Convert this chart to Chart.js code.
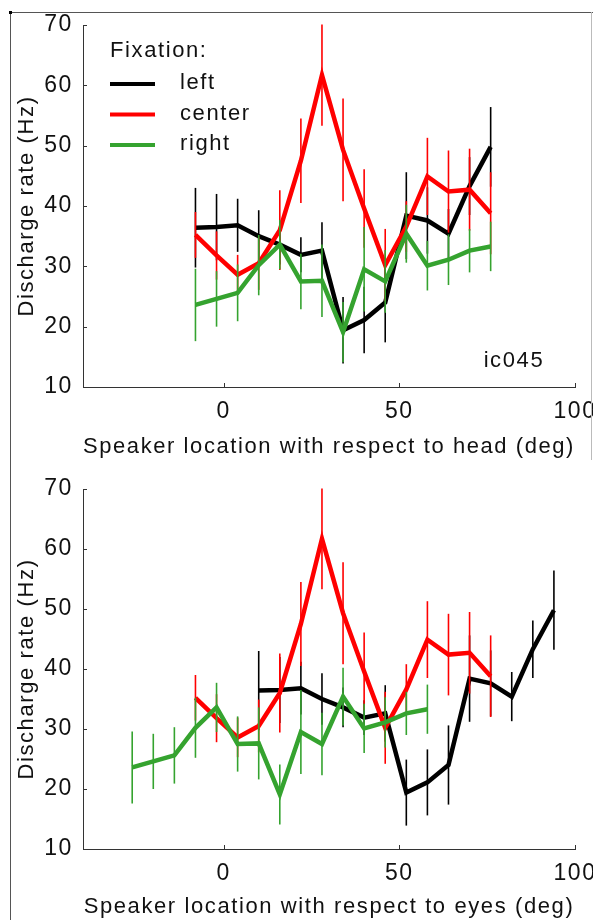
<!DOCTYPE html>
<html>
<head>
<meta charset="utf-8">
<script src="https://cdn.jsdelivr.net/npm/chart.js@4.4.0/dist/chart.umd.min.js"></script>
<style>
  html, body { margin: 0; padding: 0; background: #fff; }
  #wrap { position: relative; width: 593px; height: 920px; overflow: hidden; background: #fff; }
  .panel { position: absolute; left: 0; width: 593px; height: 460px; }
  .fl { position: absolute; left: 10px; top: 12px; width: 1px; height: 908px; background: #555; }
  .ft { position: absolute; left: 10px; top: 12px; width: 583px; height: 1px; background: #555; }
  .fr { position: absolute; left: 591px; top: 12px; width: 1px; height: 448px; background: #bbb; }
  .fc { position: absolute; left: 9px; top: 11px; width: 3px; height: 3px; background: #000; }
</style>
</head>
<body>
<div id="wrap">
  <div class="panel" style="top:0"><canvas id="top" width="593" height="460"></canvas></div>
  <div class="panel" style="top:460px"><canvas id="bottom" width="593" height="460"></canvas></div>
  <div class="fl"></div><div class="ft"></div><div class="fr"></div><div class="fc"></div>
</div>
<script>
// ---------------- data ----------------
const fixationLabels = ['left', 'center', 'right'];
const legendTitle = 'Fixation:';
const noteLabel = 'ic045';

// speaker location with respect to head (deg)
const speakerHead = [-8, -2, 4, 10, 16, 22, 28, 34, 40, 46, 52, 58, 64, 70, 76];
// speaker location with respect to eyes (deg), per fixation
const eyesLeftX   = [10, 16, 22, 28, 34, 40, 46, 52, 58, 64, 70, 76, 82, 88, 94];
const eyesCenterX = [-8, -2, 4, 10, 16, 22, 28, 34, 40, 46, 52, 58, 64, 70, 76];
const eyesRightX  = [-26, -20, -14, -8, -2, 4, 10, 16, 22, 28, 34, 40, 46, 52, 58];

// discharge rate (Hz)
const leftRate   = [36.4, 36.5, 36.8, 35.0, 33.6, 31.9, 32.6, 19.4, 21.1, 24.0, 38.4, 37.6, 35.4, 43.3, 49.8];
const centerRate = [35.2, 31.8, 28.6, 30.5, 36.0, 47.5, 61.7, 49.3, 39.6, 30.2, 36.6, 44.9, 42.4, 42.7, 38.8];
const rightRate  = [23.6, 24.6, 25.6, 30.2, 33.6, 27.5, 27.6, 19.1, 29.5, 27.5, 35.4, 30.1, 31.1, 32.6, 33.3];

// error bar half-lengths (Hz)
const leftErr   = [6.6, 5.5, 4.4, 4.3, 3.3, 2.9, 4.7, 5.5, 5.5, 6.6, 7.2, 5.5, 4.1, 4.8, 6.6];
const centerErr = [3.8, 4.0, 3.3, 4.4, 6.6, 7.0, 8.4, 8.5, 6.5, 6.0, 4.2, 6.4, 6.8, 6.8, 6.8];
const rightErr  = [6.0, 4.6, 4.7, 5.0, 4.1, 4.6, 6.0, 5.0, 7.0, 5.2, 4.8, 4.1, 4.2, 3.6, 4.1];

const xTicks = [0, 50, 100];
const yTicks = [10, 20, 30, 40, 50, 60, 70];
const xTitleTop = 'Speaker location with respect to head (deg)';
const xTitleBottom = 'Speaker location with respect to eyes (deg)';
const yTitle = 'Discharge rate (Hz)';

// ---------------- styling ----------------
const FONT = '"Liberation Sans", Arial, Helvetica, sans-serif';
const TEXT = '#111';
const colors = { left: '#000000', center: '#ff0000', right: '#35a32f' };
Chart.defaults.font.family = FONT;
Chart.defaults.color = TEXT;

function pts(xs, ys) { return xs.map((x, i) => ({ x: x, y: ys[i] })); }

const spacingPlugin = {
  id: 'spacing',
  beforeDraw(chart) { chart.ctx.letterSpacing = '1.6px'; }
};

const errorBarPlugin = {
  id: 'errbars',
  beforeDatasetDraw(chart, args) {
    const ds = chart.data.datasets[args.index];
    if (!ds.errors) return;
    const ys = chart.scales.y;
    const ctx = chart.ctx;
    ctx.save();
    ctx.strokeStyle = ds.borderColor;
    ctx.lineWidth = 1.6;
    ds.data.forEach((p, i) => {
      const x = args.meta.data[i].x;
      ctx.beginPath();
      ctx.moveTo(x, ys.getPixelForValue(p.y + ds.errors[i]));
      ctx.lineTo(x, ys.getPixelForValue(p.y - ds.errors[i]));
      ctx.stroke();
    });
    ctx.restore();
  }
};

const tickPlugin = {
  id: 'inticks',
  afterDraw(chart) {
    const ctx = chart.ctx, xs = chart.scales.x, ys = chart.scales.y;
    const a = chart.chartArea;
    ctx.save();
    ctx.strokeStyle = '#333';
    ctx.lineWidth = 1;
    xTicks.forEach(v => {
      const px = Math.round(xs.getPixelForValue(v)) + 0.5;
      ctx.beginPath(); ctx.moveTo(px, a.bottom); ctx.lineTo(px, a.bottom - 4); ctx.stroke();
    });
    yTicks.forEach(v => {
      const py = Math.round(ys.getPixelForValue(v)) + 0.5;
      ctx.beginPath(); ctx.moveTo(a.left, py); ctx.lineTo(a.left + 4, py); ctx.stroke();
    });
    ctx.restore();
  }
};

const legendPlugin = {
  id: 'fixLegend',
  afterDraw(chart, args, opts) {
    if (!opts || !opts.display) return;
    const ctx = chart.ctx;
    ctx.save();
    ctx.letterSpacing = '1.6px';
    ctx.font = '22px ' + FONT;
    ctx.fillStyle = TEXT;
    ctx.textBaseline = 'alphabetic';
    ctx.textAlign = 'left';
    ctx.fillText(opts.title, opts.x, opts.titleBaseline);
    chart.data.datasets.forEach((ds, i) => {
      const y = opts.firstY + i * opts.rowGap;
      ctx.strokeStyle = ds.borderColor;
      ctx.lineWidth = 4;
      ctx.beginPath(); ctx.moveTo(opts.x, y); ctx.lineTo(opts.x + opts.lineLen, y); ctx.stroke();
      ctx.fillStyle = TEXT;
      ctx.fillText(ds.label, opts.textX, y + 5);
    });
    if (opts.note) {
      const xs = chart.scales.x, ys = chart.scales.y;
      ctx.fillText(opts.note.text, xs.getPixelForValue(opts.note.x), ys.getPixelForValue(opts.note.y));
    }
    ctx.restore();
  }
};

function makeChart(id, xsLeft, xsCenter, xsRight, xTitle, padTop, axisH, legendOpts) {
  const mk = (label, xs, ys, errs, color, order) => ({
    label: label, data: pts(xs, ys), errors: errs,
    borderColor: color, backgroundColor: color, borderWidth: 4.5,
    pointRadius: 0, showLine: true, tension: 0, order: order
  });
  return new Chart(document.getElementById(id), {
    type: 'scatter',
    data: {
      datasets: [
        mk(fixationLabels[0], xsLeft, leftRate, leftErr, colors.left, 3),
        mk(fixationLabels[1], xsCenter, centerRate, centerErr, colors.center, 2),
        mk(fixationLabels[2], xsRight, rightRate, rightErr, colors.right, 1)
      ]
    },
    options: {
      responsive: false,
      animation: false,
      devicePixelRatio: 1,
      events: [],
      layout: { autoPadding: false, padding: { left: 0, top: padTop, right: 18, bottom: 0 } },
      plugins: {
        legend: { display: false },
        tooltip: { enabled: false },
        fixLegend: legendOpts
      },
      scales: {
        x: {
          type: 'linear', min: -40, max: 100,
          afterBuildTicks: s => { s.ticks = xTicks.map(v => ({ value: v })); },
          afterFit: s => { s.height = axisH; s.paddingLeft = 0; s.paddingRight = 0; },
          grid: { display: false, drawTicks: false },
          border: { display: true, color: '#333', width: 1 },
          ticks: { padding: 11, color: TEXT, font: { size: 23 }, maxRotation: 0, autoSkip: false },
          title: { display: true, text: xTitle, color: TEXT, font: { size: 22 }, padding: { top: 0, bottom: 0 } }
        },
        y: {
          type: 'linear', min: 10, max: 70,
          afterBuildTicks: s => { s.ticks = yTicks.map(v => ({ value: v })); },
          afterFit: s => { s.width = 83; s.paddingTop = 0; s.paddingBottom = 0; },
          grid: { display: false, drawTicks: false },
          border: { display: true, color: '#333', width: 1 },
          ticks: { padding: 10, color: TEXT, font: { size: 23 }, autoSkip: false },
          title: { display: true, text: yTitle, color: TEXT, font: { size: 22 }, padding: { top: 14, bottom: 0 } }
        }
      }
    },
    plugins: [spacingPlugin, errorBarPlugin, tickPlugin, legendPlugin]
  });
}

makeChart('top', speakerHead, speakerHead, speakerHead, xTitleTop, 25, 73, {
  display: true, title: legendTitle, x: 110, titleBaseline: 57, firstY: 84, rowGap: 30.5,
  lineLen: 45, textX: 180, note: { text: noteLabel, x: 74, y: 13.3 }
});
makeChart('bottom', eyesLeftX, eyesCenterX, eyesRightX, xTitleBottom, 29, 71, { display: false });
</script>
</body>
</html>
